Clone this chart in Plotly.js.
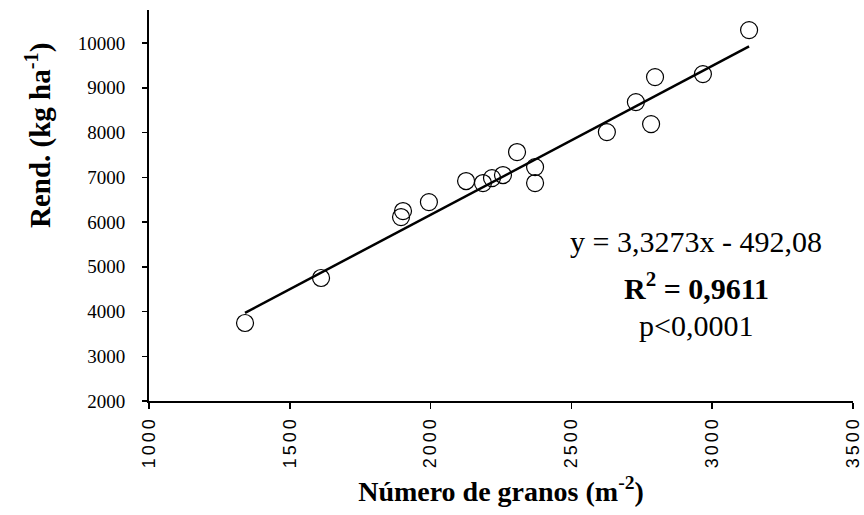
<!DOCTYPE html>
<html>
<head>
<meta charset="utf-8">
<script src="https://cdn.plot.ly/plotly-3.0.1.min.js"></script>
<style>
html,body{margin:0;padding:0;background:#fff;}
#chart{width:864px;height:515px;}
#chart .xtick text{letter-spacing:3px;}
</style>
</head>
<body>
<div id="chart"></div>
<script>
// Número de granos (m-2)
const granos = [1341, 1611, 1895, 1902, 1994, 2126, 2186, 2218, 2257, 2307, 2371, 2371, 2626, 2729, 2783, 2797, 2967, 3131];
// Rendimiento (kg ha-1)
const rend   = [3743, 4749, 6112, 6246, 6447, 6917, 6872, 6983, 7051, 7565, 7229, 6872, 8011, 8682, 8190, 9241, 9308, 10291];
// Regression coefficients shown in the chart
const slope = 3.3273;
const intercept = -492.08;
const xTicks = [1000, 1500, 2000, 2500, 3000, 3500];
const yTicks = [2000, 3000, 4000, 5000, 6000, 7000, 8000, 9000, 10000];
const statLines = ['y = 3,3273x - 492,08', '<b>R<sup>2</sup> = 0,9611</b>', 'p&lt;0,0001'];

const xMin = Math.min(...granos), xMax = Math.max(...granos);
const fitX = [xMin, xMax];
const fitY = fitX.map(v => slope * v + intercept);

const serif = 'Liberation Serif, Times New Roman, serif';

const traces = [
  {x: fitX, y: fitY, mode: 'lines', type: 'scatter',
   line: {color: '#000', width: 2.5}, hoverinfo: 'skip', showlegend: false},
  {x: granos, y: rend, mode: 'markers', type: 'scatter',
   marker: {symbol: 'circle', size: 17, color: 'rgba(255,255,255,0)', line: {color: '#000', width: 1.2}},
   showlegend: false}
];

const statY = [241, 286, 325];
const layout = {
  width: 864, height: 515,
  margin: {l: 149, r: 11, t: 10, b: 114},
  paper_bgcolor: '#fff', plot_bgcolor: '#fff',
  showlegend: false,
  xaxis: {
    range: [1000, 3500], tickvals: xTicks, ticktext: xTicks.map(String),
    tickangle: -90, ticks: 'outside', ticklen: 6, tickwidth: 1.5, tickcolor: '#000',
    showline: true, linecolor: '#000', linewidth: 2, showgrid: false, zeroline: false,
    tickfont: {family: 'Liberation Sans, Arial, sans-serif', size: 18, color: '#000'},
    title: {text: '<b>Número de granos (m<sup>-2</sup>)</b>', font: {family: serif, size: 28, color: '#000'}, standoff: 26}
  },
  yaxis: {
    range: [2000, 10740], tickvals: yTicks, ticktext: yTicks.map(String),
    ticks: 'outside', ticklen: 5, tickwidth: 1.5, tickcolor: '#000', ticklabelstandoff: 13,
    showline: true, linecolor: '#000', linewidth: 2, showgrid: false, zeroline: false,
    tickfont: {family: serif, size: 19, color: '#000'}
  },
  annotations: [
    {xref: 'paper', yref: 'paper', x: (38-149)/704, y: (401-135)/391, text: '<b>Rend. (kg ha<sup>-1</sup>)</b>',
     textangle: -90, showarrow: false, font: {family: serif, size: 29, color: '#000'}, xanchor: 'center', yanchor: 'middle'}
  ].concat(statLines.map((t, i) => ({
     xref: 'paper', yref: 'paper', x: (696-149)/704, y: (401-statY[i])/391, text: t,
     showarrow: false, font: {family: serif, size: 30, color: '#000'}, xanchor: 'center', yanchor: 'middle'})))
};

Plotly.newPlot('chart', traces, layout, {displayModeBar: false, staticPlot: true});
</script>
</body>
</html>
